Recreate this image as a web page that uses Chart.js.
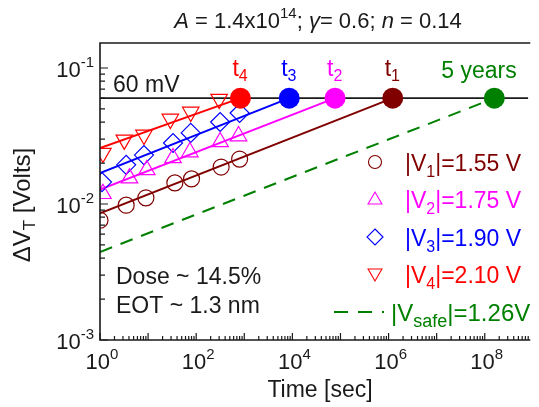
<!DOCTYPE html>
<html><head><meta charset="utf-8">
<script src="https://cdn.jsdelivr.net/npm/chart.js@4.4.0/dist/chart.umd.min.js"></script>
<style>html,body{margin:0;padding:0;background:#fff;overflow:hidden}#wrap{width:539px;height:407px;position:relative}</style>
</head><body><div id="wrap"><canvas id="c" width="539" height="407"></canvas></div>
<script>
// ---------- data ----------
const timesV1 = [1.0, 3.5, 9.0, 36, 80, 330, 800];
const dVtV1   = [0.0076, 0.0098, 0.0111, 0.0143, 0.0153, 0.0187, 0.0214];
const timesV2 = [1.15, 4.1, 9.4, 33, 74, 315, 760];
const dVtV2   = [0.0119, 0.0155, 0.0178, 0.0218, 0.0241, 0.0286, 0.0316];
const timesV3 = [1.1, 3.5, 8.2, 33, 77, 315, 800];
const dVtV3   = [0.0145, 0.0194, 0.0229, 0.0281, 0.0333, 0.0401, 0.0467];
const timesV4 = [1.15, 3.2, 8.2, 29, 77, 300];
const dVtV4   = [0.0237, 0.0296, 0.0322, 0.0422, 0.0475, 0.0591];
// fit lines: value at t = 1 s, and time to reach the 60 mV criterion
const fitStart = [0.00855, 0.01276, 0.0169, 0.0258, 0.00444]; // V1, V2, V3, V4, Vsafe
const failTimes = [1.22e6, 7.7e4, 8.6e3, 830, 1.58e8];       // t1, t2, t3, t4, 5 years
const criterion = 0.06;
const seriesColors = ['#800000', '#ff00ff', '#0000ff', '#ff0000', '#008000'];
const failLabels = ['1', '2', '3', '4'];
const legendTexts = ['=1.55 V', '=1.75 V', '=1.90 V', '=2.10 V'];
const xTickExps = [0, 2, 4, 6, 8];
const yTickExps = [-1, -2, -3];
const XMIN = 1, XMAX = 8.04e8, YMIN = 1e-3, YMAX = 0.1527;

const FONT = '"Liberation Sans", Arial, Helvetica, sans-serif';
const pts = (xs, ys) => xs.map((x, i) => ({x, y: ys[i]}));

function fitLine(i, dashed) {
  return {
    type: 'line', data: [{x: 1, y: fitStart[i]}, {x: failTimes[i], y: criterion}],
    borderColor: seriesColors[i], borderWidth: dashed ? 2 : 2, borderDash: dashed ? [13, 9] : [],
    pointRadius: 0, fill: false, tension: 0, order: 5
  };
}
function markers(xs, ys, color, style, r, rot) {
  return {
    type: 'line', showLine: false, data: pts(xs, ys),
    pointStyle: style, pointRadius: r, pointRotation: rot || 0,
    pointBackgroundColor: 'rgba(0,0,0,0)', pointBorderColor: color, pointBorderWidth: 1.2,
    borderColor: color, order: 4
  };
}

const datasets = [
  {type: 'line', data: [{x: XMIN, y: criterion}, {x: XMAX, y: criterion}], borderColor: '#1a1a1a', borderWidth: 1.6, pointRadius: 0, order: 6},
  fitLine(0), fitLine(1), fitLine(2), fitLine(3), fitLine(4, true),
  markers(timesV1, dVtV1, seriesColors[0], 'circle', 8),
  markers(timesV2, dVtV2, seriesColors[1], 'triangle', 9.5),
  markers(timesV3, dVtV3, seriesColors[2], 'rectRot', 9.5),
  markers(timesV4, dVtV4, seriesColors[3], 'triangle', 9.5, 180),
  {type: 'line', showLine: false, data: failTimes.map(t => ({x: t, y: criterion})),
   pointStyle: 'circle', pointRadius: 10.5, pointBorderWidth: 0,
   pointBackgroundColor: seriesColors, pointBorderColor: seriesColors, clip: false, order: 1}
];

function drawRich(ctx, parts, x, y, align) {
  let w = 0;
  parts.forEach(p => { ctx.font = (p.italic ? 'italic ' : '') + p.size + 'px ' + FONT; p.w = ctx.measureText(p.t).width; w += p.w; });
  let cx = align === 'center' ? x - w / 2 : (align === 'right' ? x - w : x);
  ctx.textAlign = 'left'; ctx.textBaseline = 'alphabetic';
  parts.forEach(p => {
    ctx.font = (p.italic ? 'italic ' : '') + p.size + 'px ' + FONT;
    ctx.fillStyle = p.color || ctx.fillStyle;
    ctx.fillText(p.t, cx, y + (p.dy || 0));
    cx += p.w;
  });
}

const decor = {
  id: 'decor',
  afterDatasetsDraw(chart) {
    const ctx = chart.ctx, a = chart.chartArea, xs = chart.scales.x, ys = chart.scales.y;
    ctx.save();
    // frame
    ctx.strokeStyle = '#1a1a1a'; ctx.lineWidth = 1.6;
    ctx.beginPath();
    ctx.moveTo(a.right + 2, a.top); ctx.lineTo(a.left, a.top); ctx.lineTo(a.left, a.bottom); ctx.lineTo(a.right + 2, a.bottom);
    ctx.stroke();
    // ticks (inward)
    ctx.lineWidth = 1.2;
    ctx.beginPath();
    for (let d = 0; d <= 9; d++) for (let m = 1; m <= 9; m++) {
      const v = m * Math.pow(10, d); if (v > XMAX) break;
      const px = xs.getPixelForValue(v), len = m === 1 ? 7 : 4;
      ctx.moveTo(px, a.bottom); ctx.lineTo(px, a.bottom - len);
    }
    for (let d = -3; d <= -1; d++) for (let m = 1; m <= 9; m++) {
      const v = m * Math.pow(10, d); if (v > YMAX) break;
      const py = ys.getPixelForValue(v), len = m === 1 ? 8 : 5;
      ctx.moveTo(a.left, py); ctx.lineTo(a.left + len, py);
    }
    ctx.stroke();
    // tick labels
    ctx.fillStyle = '#1a1a1a';
    xTickExps.forEach(e => {
      const px = xs.getPixelForValue(Math.pow(10, e));
      drawRich(ctx, [{t: '10', size: 22}, {t: String(e), size: 15, dy: -10}], px + 2, a.bottom + 29, 'center');
    });
    yTickExps.forEach(e => {
      const py = ys.getPixelForValue(Math.pow(10, e));
      drawRich(ctx, [{t: '10', size: 22}, {t: '-' + Math.abs(e), size: 15, dy: -10}], a.left - 6, py + 9, 'right');
    });
    // axis titles
    ctx.fillStyle = '#1a1a1a';
    drawRich(ctx, [{t: 'Time [sec]', size: 23}], 320, 397, 'center');
    ctx.save(); ctx.translate(22, 205); ctx.rotate(-Math.PI / 2);
    drawRich(ctx, [{t: '\u0394V', size: 24}, {t: 'T', size: 17, dy: 5}, {t: ' [Volts]', size: 24}], 0, 8, 'center');
    ctx.restore();
    // title
    drawRich(ctx, [{t: 'A', size: 22, italic: true}, {t: ' = 1.4x10', size: 22}, {t: '14', size: 15, dy: -10},
      {t: '; ', size: 22}, {t: '\u03b3', size: 22, italic: true}, {t: '= 0.6; ', size: 22},
      {t: 'n', size: 22, italic: true}, {t: ' = 0.14', size: 22}], 318, 28, 'center');
    // 60 mV
    drawRich(ctx, [{t: '60 mV', size: 23}], 113, 92, 'left');
    // t labels
    for (let i = 0; i < 4; i++) {
      const px = xs.getPixelForValue(failTimes[i]);
      drawRich(ctx, [{t: 't', size: 23, color: seriesColors[i]}, {t: failLabels[i], size: 16, dy: 5, color: seriesColors[i]}], px - 8, 76, 'left');
    }
    drawRich(ctx, [{t: '5 years', size: 23, color: seriesColors[4]}], 479, 78, 'center');
    // Dose / EOT
    ctx.fillStyle = '#1a1a1a';
    drawRich(ctx, [{t: 'Dose ~ 14.5%', size: 23}], 116, 284, 'left');
    drawRich(ctx, [{t: 'EOT ~ 1.3 nm', size: 23}], 116, 313, 'left');
    // legend
    const rowY = [162, 199, 237, 274, 312];
    const mx = 375;
    ctx.lineWidth = 1.1;
    ctx.strokeStyle = seriesColors[0]; ctx.beginPath(); ctx.arc(mx, rowY[0], 6.5, 0, 2 * Math.PI); ctx.stroke();
    const tri = (cy, r, up, col) => {
      ctx.strokeStyle = col; ctx.beginPath();
      for (let k = 0; k < 3; k++) {
        const ang = (up ? -Math.PI / 2 : Math.PI / 2) + k * 2 * Math.PI / 3;
        const X = mx + r * Math.cos(ang), Y = cy + r * Math.sin(ang);
        k ? ctx.lineTo(X, Y) : ctx.moveTo(X, Y);
      }
      ctx.closePath(); ctx.stroke();
    };
    tri(rowY[1] + 1, 8, true, seriesColors[1]);
    ctx.strokeStyle = seriesColors[2]; ctx.beginPath();
    ctx.moveTo(mx, rowY[2] - 8); ctx.lineTo(mx + 8, rowY[2]); ctx.lineTo(mx, rowY[2] + 8); ctx.lineTo(mx - 8, rowY[2]); ctx.closePath(); ctx.stroke();
    tri(rowY[3] - 1, 8, false, seriesColors[3]);
    for (let i = 0; i < 4; i++) {
      const c = seriesColors[i];
      drawRich(ctx, [{t: '|V', size: 23, color: c}, {t: String(i + 1), size: 16, dy: 6, color: c}, {t: '|' + legendTexts[i], size: 23, color: c}], 405, rowY[i] + 9, 'left');
    }
    // safe legend
    ctx.strokeStyle = seriesColors[4]; ctx.lineWidth = 2; ctx.beginPath();
    ctx.moveTo(334, rowY[4]); ctx.lineTo(348, rowY[4]); ctx.moveTo(358, rowY[4]); ctx.lineTo(372, rowY[4]); ctx.stroke();
    ctx.fillStyle = seriesColors[4]; ctx.fillRect(382, rowY[4] - 1, 2, 2);
    drawRich(ctx, [{t: '|V', size: 24, color: seriesColors[4]}, {t: 'safe', size: 18, dy: 6, color: seriesColors[4]}, {t: '|=1.26V', size: 24, color: seriesColors[4]}], 391, rowY[4] + 9, 'left');
    ctx.restore();
  }
};

new Chart(document.getElementById('c'), {
  type: 'line',
  data: {datasets},
  options: {
    responsive: false, animation: false, devicePixelRatio: 1,
    layout: {padding: {left: 100, top: 43, right: 0, bottom: 67}},
    plugins: {legend: {display: false}, tooltip: {enabled: false}},
    scales: {
      x: {type: 'logarithmic', min: XMIN, max: XMAX, ticks: {display: false}, grid: {display: false}, border: {display: false}, afterFit: s => { s.height = 0; }},
      y: {type: 'logarithmic', min: YMIN, max: YMAX, ticks: {display: false}, grid: {display: false}, border: {display: false}, afterFit: s => { s.width = 0; }}
    }
  },
  plugins: [decor]
});
</script>
</body></html>
